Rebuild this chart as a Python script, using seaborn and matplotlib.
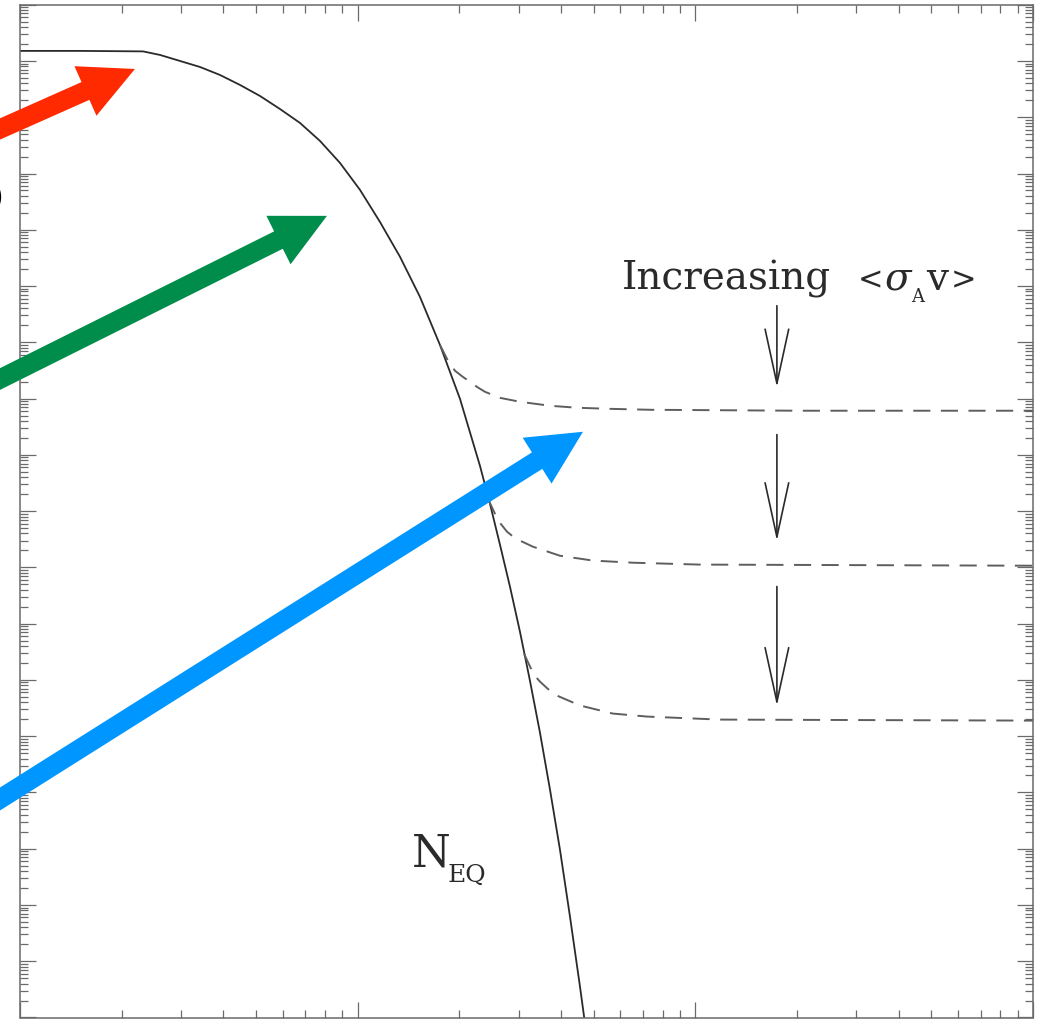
import numpy as np
import pandas as pd
import matplotlib
matplotlib.use("Agg")
import matplotlib.pyplot as plt
from matplotlib.ticker import LogLocator, NullFormatter
import seaborn as sns

# x = m/T on the horizontal axis, comoving number density on the vertical axis
x_eq = [1.0, 1.506, 2.313, 2.597, 2.978, 3.412, 3.910, 4.482, 5.136, 5.887,
        6.748, 7.735, 8.865, 10.16, 11.64, 13.35, 15.29, 17.52, 20.09, 23.02,
        24.65, 26.39, 28.25, 30.24, 32.37, 34.66, 37.11, 39.72, 42.53, 45.53,
        47.43]
n_eq = [1.51e-3, 1.51e-3, 1.48e-3, 1.28e-3, 1.00e-3, 7.82e-4, 5.64e-4, 3.75e-4,
        2.39e-4, 1.40e-4, 7.92e-5, 3.79e-5, 1.54e-5, 5.12e-6, 1.38e-6, 3.30e-7,
        6.43e-8, 9.04e-9, 9.91e-10, 6.40e-11, 1.35e-11, 2.53e-12, 4.55e-13,
        7.21e-14, 9.73e-15, 1.16e-15, 1.13e-16, 9.68e-18, 6.25e-19, 3.57e-20,
        5.90e-21]

# freeze-out branches, one per annihilation cross section
x_fo1 = [17.52, 18.51, 19.42, 20.45, 21.50, 22.60, 23.82, 26.39, 30.24, 37.11,
         44.62, 54.72, 73.4, 204.0, 1000.0]
n_fo1 = [9.04e-9, 4.69e-9, 3.12e-9, 2.45e-9, 1.99e-9, 1.60e-9, 1.32e-9,
         1.03e-9, 8.77e-10, 7.45e-10, 6.87e-10, 6.59e-10, 6.32e-10, 6.08e-10,
         6.08e-10]

x_fo2 = [24.31, 25.5, 26.55, 27.68, 28.90, 30.24, 33.04, 39.72, 49.75, 65.35,
         103.2, 1000.0]
n_fo2 = [1.66e-11, 8.99e-12, 5.90e-12, 4.31e-12, 3.50e-12, 2.99e-12, 2.33e-12,
         1.61e-12, 1.32e-12, 1.21e-12, 1.12e-12, 1.07e-12]

x_fo3 = [31.08, 32.82, 33.70, 34.66, 36.60, 38.92, 45.53, 57.0, 71.9, 118.2,
         1000.0]
n_fo3 = [2.93e-14, 1.46e-14, 1.13e-14, 9.33e-15, 6.90e-15, 5.26e-15, 3.51e-15,
         2.52e-15, 2.23e-15, 1.97e-15, 1.89e-15]

eq = pd.DataFrame({"x": x_eq, "n": n_eq})
branches = [pd.DataFrame({"x": a, "n": b})
            for a, b in [(x_fo1, n_fo1), (x_fo2, n_fo2), (x_fo3, n_fo3)]]

sns.set_theme(style="white")
plt.rcParams["font.family"] = ["DejaVu Serif", "DejaVu Sans"]
plt.rcParams["mathtext.fontset"] = "dejavuserif"

W, H = 1045, 1020
fig = plt.figure(figsize=(W / 100, H / 100), dpi=100)
fig.patch.set_facecolor("white")
ax = fig.add_axes([20 / W, 1.5 / H, 1013 / W, 1012.8 / H])
ax.set_xscale("log")
ax.set_yscale("log")
ax.set_xlim(1, 1000)
ax.set_ylim(1e-20, 1e-2)

ink = "#2a2a2a"
sns.lineplot(data=eq, x="x", y="n", ax=ax, color=ink, lw=1.3,
             estimator=None, sort=False)
for br in branches:
    sns.lineplot(data=br, x="x", y="n", ax=ax, color="#5e5e5e", lw=1.4,
                 estimator=None, sort=False, linestyle=(0, (8.8, 5.4)))

# axes frame and inward ticks on all four sides
for s in ax.spines.values():
    s.set_color("#6a6a6a")
    s.set_linewidth(1.1)
ax.xaxis.set_major_locator(LogLocator(base=10, numticks=20))
ax.xaxis.set_minor_locator(LogLocator(base=10, subs=np.arange(2, 10), numticks=50))
ax.yaxis.set_major_locator(LogLocator(base=10, numticks=40))
ax.yaxis.set_minor_locator(LogLocator(base=10, subs=np.arange(2, 10), numticks=300))
for axis in (ax.xaxis, ax.yaxis):
    axis.set_major_formatter(NullFormatter())
    axis.set_minor_formatter(NullFormatter())
ax.tick_params(which="both", direction="in", top=True, right=True,
               bottom=True, left=True, color="#6a6a6a", width=0.9, pad=0)
ax.tick_params(which="major", length=11.5)
ax.tick_params(which="minor", length=5.5)
ax.set_xlabel("")
ax.set_ylabel("")

# "Increasing <sigma_A v>" label, built from pieces so the brackets stay narrow
y_label = 10 ** -7.05
y_sub = 10 ** -7.265
label_parts = [
    (60.6, y_label, "Increasing", 28),
    (303.0, y_label, "<", 22),
    (362.0, y_label, r"$\sigma$", 28),
    (436.0, y_sub, "A", 13),
    (484.0, y_label, "v", 28),
    (570.0, y_label, ">", 22),
]
for xp, yp, txt, size in label_parts:
    ax.text(xp, yp, txt, fontsize=size, color=ink, ha="left", va="baseline")

ax.text(14.48, 10 ** -17.30, "N", fontsize=32, color=ink, ha="left", va="baseline")
ax.text(18.51, 10 ** -17.565, "EQ", fontsize=18, color=ink, ha="left", va="baseline")

# downward arrows showing the effect of a larger cross section
x_arrow = 174.4
for top, tip in [(-7.35, -8.80), (-9.64, -11.53), (-12.34, -14.46)]:
    ax.annotate("", xy=(x_arrow, 10 ** tip), xytext=(x_arrow, 10 ** top),
                arrowprops=dict(arrowstyle="->,head_length=3.9,head_width=0.85",
                                mutation_scale=10, lw=1.2, color=ink,
                                shrinkA=0, shrinkB=0))

# coloured pointer arrows entering from the left margin
pointers = [
    ((2.19, 10 ** -3.142), (-30, 876.7), "#ff2a00"),
    ((8.11, 10 ** -5.753), (-30, 625.0), "#008c4b"),
    ((46.47, 10 ** -9.59), (-30, 201.1), "#0096ff"),
]
for tip, tail, col in pointers:
    ax.annotate("", xy=tip, xycoords="data", xytext=tail, textcoords="figure pixels",
                annotation_clip=False,
                arrowprops=dict(arrowstyle="simple,head_length=3.9,head_width=3.9,tail_width=1.4",
                                mutation_scale=10, fc=col, ec="none",
                                shrinkA=0, shrinkB=0))

# edge of a margin label that runs off the left side
fig.text(3.5 / W, 1 - 199 / H, ")", fontsize=24, color="black", ha="right",
         va="center", family="DejaVu Sans")

fig.savefig("out.png", dpi=100, facecolor="white")
